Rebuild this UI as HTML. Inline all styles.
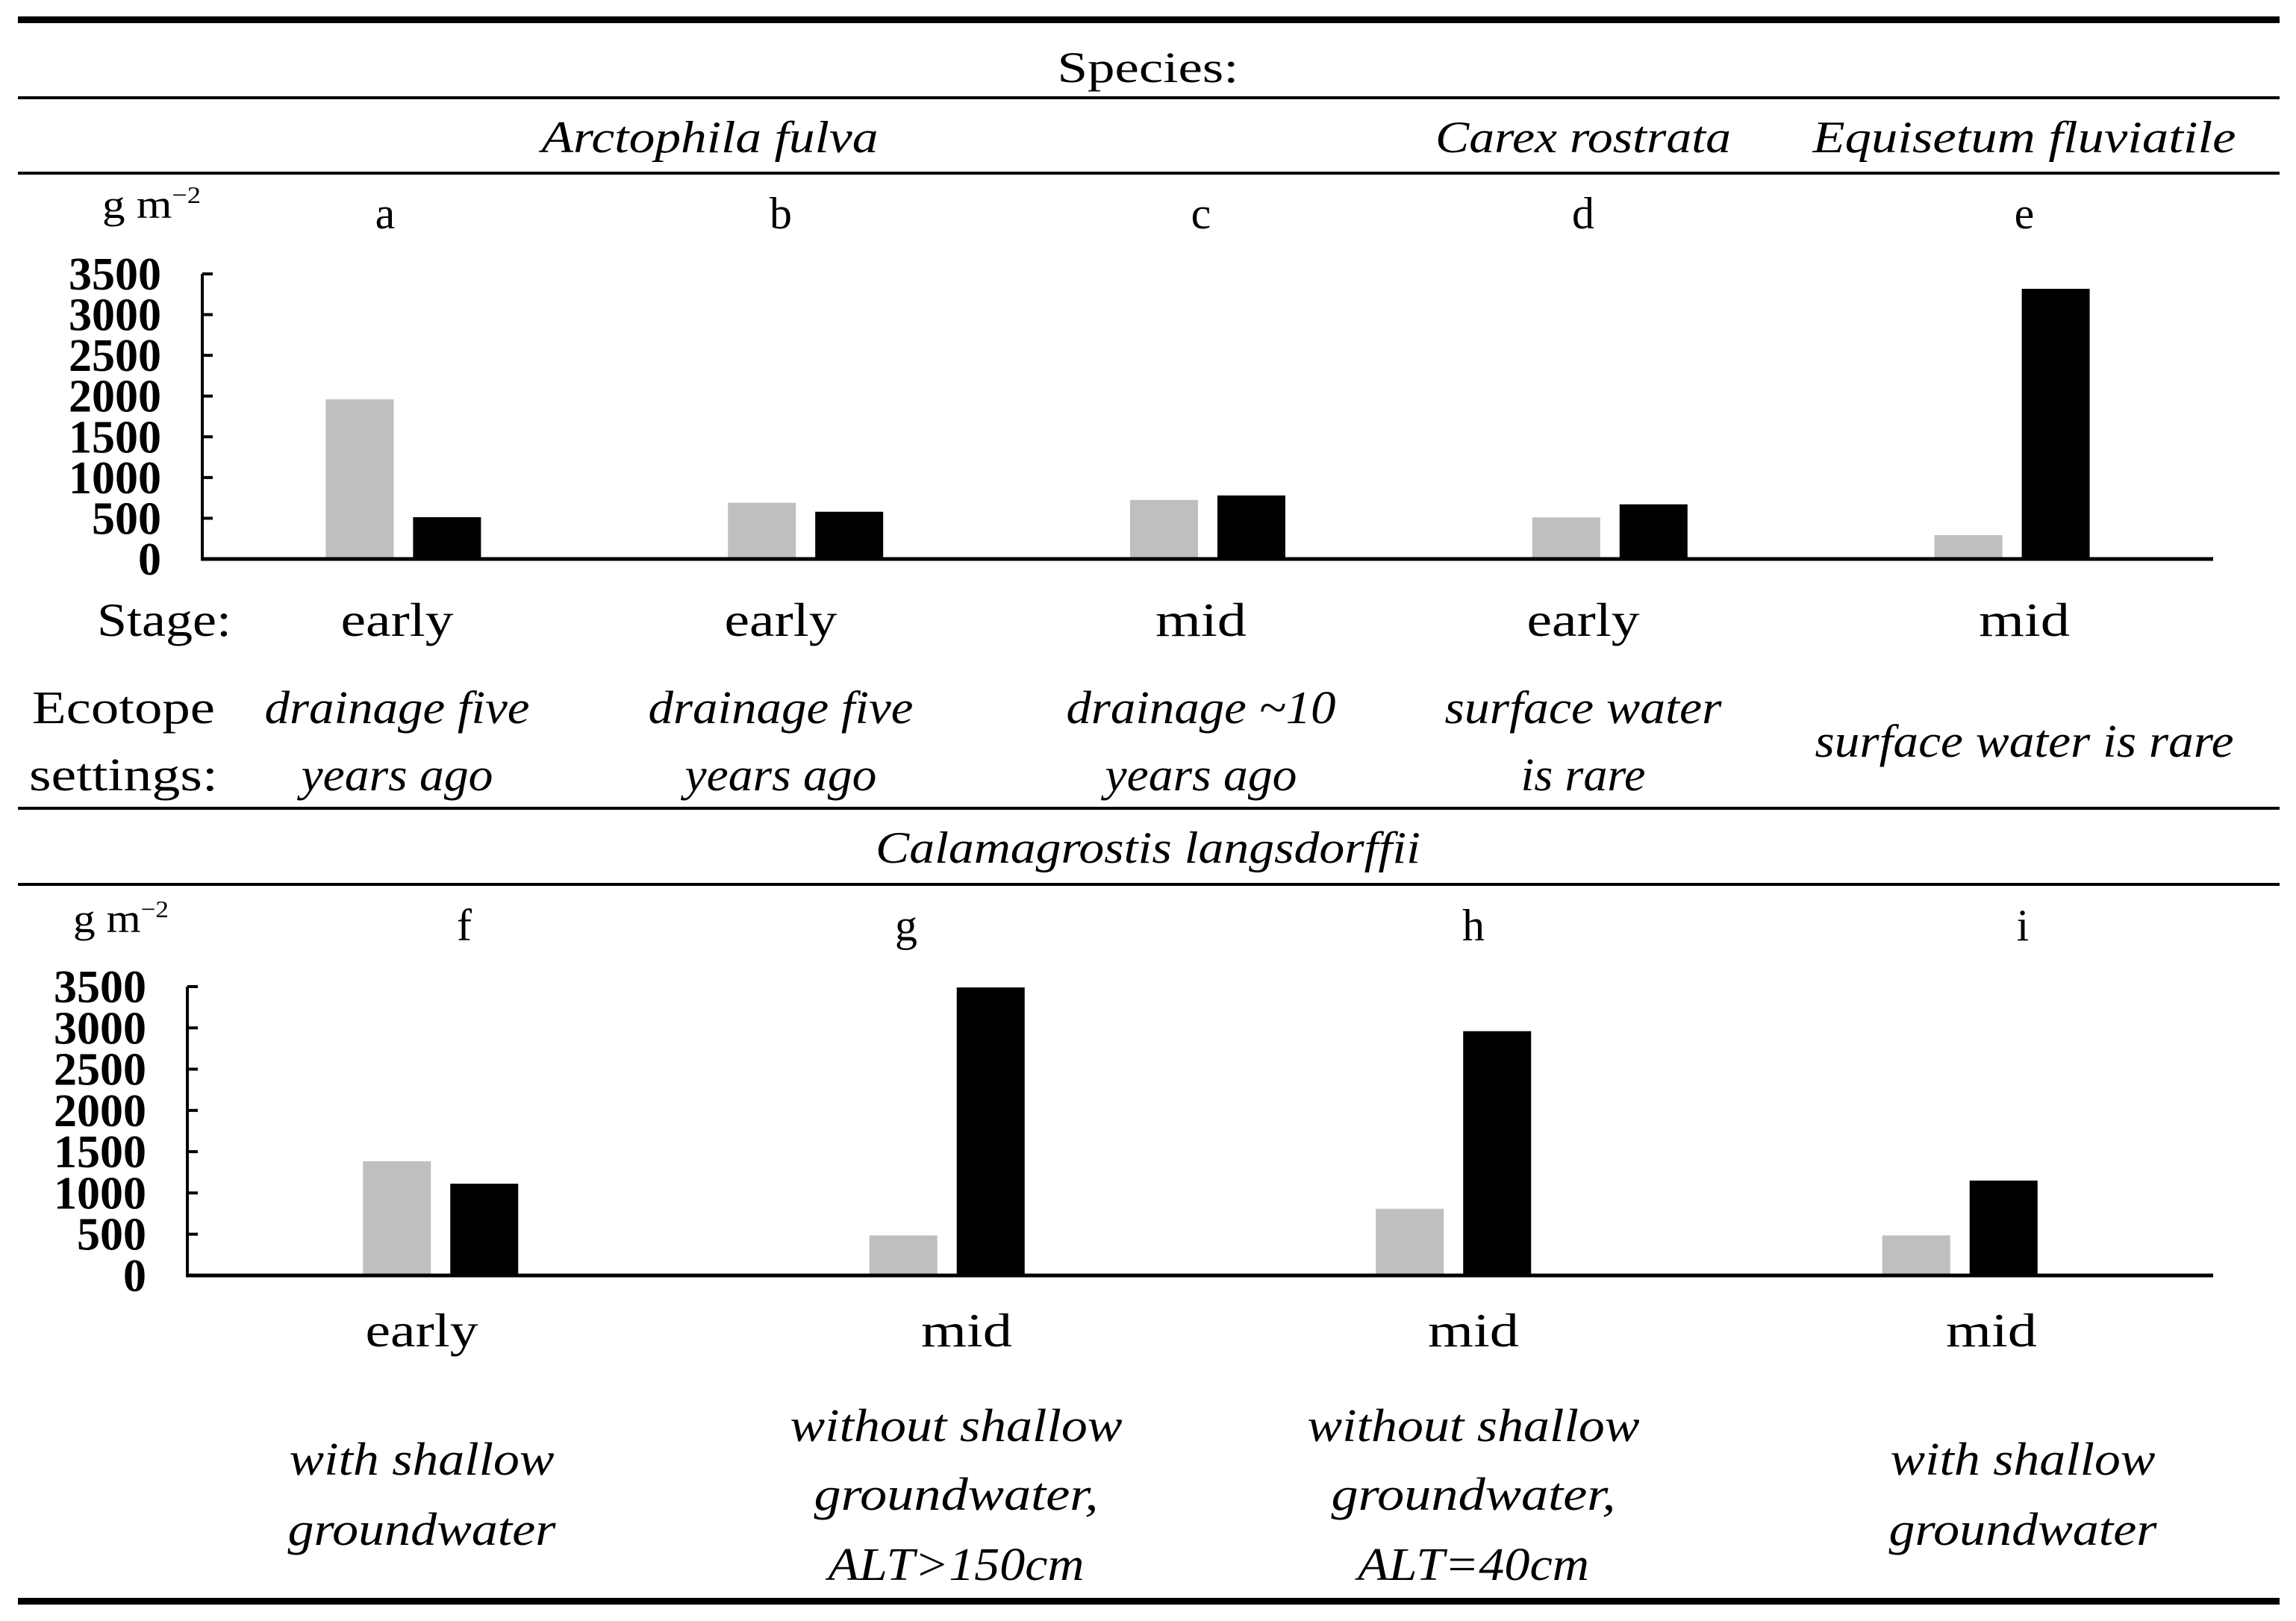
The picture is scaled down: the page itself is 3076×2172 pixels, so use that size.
<!DOCTYPE html>
<html><head><meta charset="utf-8"><style>
html,body{margin:0;padding:0;background:#fff;}
svg{display:block;}
text{font-family:"Liberation Serif",serif;fill:#000;}
.it{font-style:italic;}
.tk{font-weight:bold;font-size:62px;}
</style></head><body>
<svg id="fig" width="3076" height="2172" viewBox="0 0 3076 2172" xmlns="http://www.w3.org/2000/svg">
<rect x="0" y="0" width="3076" height="2172" fill="#fff"/>
<rect x="24" y="22" width="3030" height="9" fill="#000"/>
<text x="1538" y="110" font-size="58" text-anchor="middle" textLength="243" lengthAdjust="spacingAndGlyphs">Species:</text>
<rect x="24" y="129" width="3030" height="4" fill="#000"/>
<text class="it" x="951" y="204" font-size="60" text-anchor="middle" textLength="451" lengthAdjust="spacingAndGlyphs">Arctophila fulva</text>
<text class="it" x="2121" y="204" font-size="60" text-anchor="middle" textLength="396" lengthAdjust="spacingAndGlyphs">Carex rostrata</text>
<text class="it" x="2712" y="204" font-size="60" text-anchor="middle" textLength="567" lengthAdjust="spacingAndGlyphs">Equisetum fluviatile</text>
<rect x="24" y="230" width="3030" height="4" fill="#000"/>

<text x="137" y="292" font-size="54" textLength="132" lengthAdjust="spacingAndGlyphs">g m<tspan font-size="32" dy="-20">−2</tspan></text>
<g font-size="60" text-anchor="middle">
<text x="516" y="306">a</text><text x="1046" y="306">b</text><text x="1609" y="306">c</text><text x="2121" y="306">d</text><text x="2712" y="306">e</text>
</g>
<g id="topChart"></g>

<text x="130" y="852" font-size="64" textLength="180" lengthAdjust="spacingAndGlyphs">Stage:</text>
<g font-size="64" text-anchor="middle">
<text x="532" y="852" textLength="151" lengthAdjust="spacingAndGlyphs">early</text>
<text x="1046" y="852" textLength="151" lengthAdjust="spacingAndGlyphs">early</text>
<text x="1609" y="852" textLength="122" lengthAdjust="spacingAndGlyphs">mid</text>
<text x="2121" y="852" textLength="151" lengthAdjust="spacingAndGlyphs">early</text>
<text x="2712" y="852" textLength="122" lengthAdjust="spacingAndGlyphs">mid</text>
</g>
<text x="43" y="969" font-size="62" textLength="245" lengthAdjust="spacingAndGlyphs">Ecotope</text>
<text x="39" y="1059" font-size="62" textLength="253" lengthAdjust="spacingAndGlyphs">settings:</text>
<g class="it" font-size="62" text-anchor="middle">
<text x="532" y="969" textLength="355" lengthAdjust="spacingAndGlyphs">drainage five</text>
<text x="532" y="1059" textLength="257" lengthAdjust="spacingAndGlyphs">years ago</text>
<text x="1046" y="969" textLength="355" lengthAdjust="spacingAndGlyphs">drainage five</text>
<text x="1046" y="1059" textLength="257" lengthAdjust="spacingAndGlyphs">years ago</text>
<text x="1609" y="969" textLength="361" lengthAdjust="spacingAndGlyphs">drainage ~10</text>
<text x="1609" y="1059" textLength="257" lengthAdjust="spacingAndGlyphs">years ago</text>
<text x="2121" y="969" textLength="371" lengthAdjust="spacingAndGlyphs">surface water</text>
<text x="2121" y="1059" textLength="167" lengthAdjust="spacingAndGlyphs">is rare</text>
<text x="2712" y="1014" textLength="561" lengthAdjust="spacingAndGlyphs">surface water is rare</text>
</g>
<rect x="24" y="1081" width="3030" height="4" fill="#000"/>
<text class="it" x="1538" y="1156" font-size="60" text-anchor="middle" textLength="730" lengthAdjust="spacingAndGlyphs">Calamagrostis langsdorffii</text>
<rect x="24" y="1183" width="3030" height="4" fill="#000"/>

<text x="98" y="1249" font-size="54" textLength="128" lengthAdjust="spacingAndGlyphs">g m<tspan font-size="32" dy="-20">−2</tspan></text>
<g font-size="60" text-anchor="middle">
<text x="622" y="1260">f</text><text x="1214" y="1260">g</text><text x="1974" y="1260">h</text><text x="2710" y="1260">i</text>
</g>
<g id="botChart"></g>

<g font-size="64" text-anchor="middle">
<text x="565" y="1804" textLength="151" lengthAdjust="spacingAndGlyphs">early</text>
<text x="1295" y="1804" textLength="122" lengthAdjust="spacingAndGlyphs">mid</text>
<text x="1974" y="1804" textLength="122" lengthAdjust="spacingAndGlyphs">mid</text>
<text x="2668" y="1804" textLength="122" lengthAdjust="spacingAndGlyphs">mid</text>
</g>
<g class="it" font-size="62" text-anchor="middle">
<text x="565" y="1976" textLength="355" lengthAdjust="spacingAndGlyphs">with shallow</text>
<text x="565" y="2070" textLength="359" lengthAdjust="spacingAndGlyphs">groundwater</text>
<text x="1281" y="1931" textLength="445" lengthAdjust="spacingAndGlyphs">without shallow</text>
<text x="1281" y="2023" textLength="381" lengthAdjust="spacingAndGlyphs">groundwater,</text>
<text x="1281" y="2117" textLength="343" lengthAdjust="spacingAndGlyphs">ALT&gt;150cm</text>
<text x="1974" y="1931" textLength="445" lengthAdjust="spacingAndGlyphs">without shallow</text>
<text x="1974" y="2023" textLength="381" lengthAdjust="spacingAndGlyphs">groundwater,</text>
<text x="1974" y="2117" textLength="310" lengthAdjust="spacingAndGlyphs">ALT=40cm</text>
<text x="2710" y="1976" textLength="355" lengthAdjust="spacingAndGlyphs">with shallow</text>
<text x="2710" y="2070" textLength="359" lengthAdjust="spacingAndGlyphs">groundwater</text>
</g>
<rect x="24" y="2141" width="3030" height="9" fill="#000"/>
</svg>
<script>
const tickLabels = ["0","500","1000","1500","2000","2500","3000","3500"];
const tickValues = [0,500,1000,1500,2000,2500,3000,3500];
const topCategories = ["a","b","c","d","e"];
const topGray = [1960, 690, 725, 510, 293];
const topBlack = [513, 580, 780, 671, 3317];
const botCategories = ["f","g","h","i"];
const botGray = [1384, 485, 808, 485];
const botBlack = [1112, 3490, 2960, 1150];

const NS = "http://www.w3.org/2000/svg";
function mk(tag, attrs, parent){const e=document.createElementNS(NS,tag);for(const k in attrs)e.setAttribute(k,attrs[k]);parent.appendChild(e);return e;}

function drawChart(g, cats, gray, black, x0, x1, yTop, yZero, prefix){
  const yScale = v => yZero - (v/3500)*(yZero-yTop);
  const band = (x1-x0)/cats.length;
  const xCenter = i => x0 + band*(i+0.5);
  tickValues.forEach((v,i)=>{
    const t = mk("line",{x1:x0,x2:x0+14,y1:yScale(v),y2:yScale(v),stroke:"#000","stroke-width":4},g);
    
    
    const lb = mk("text",{x:x0-55,y:yScale(v)+21,"text-anchor":"end",class:"tk"},g);
    lb.textContent = tickLabels[i];
    
    
  });
  cats.forEach((c,i)=>{
    const cx = xCenter(i);
    const r1 = mk("rect",{x:cx-104,y:yScale(gray[i]),width:91,height:yZero-yScale(gray[i]),fill:"#bfbfbf"},g);
    
    
    const r2 = mk("rect",{x:cx+13,y:yScale(black[i]),width:91,height:yZero-yScale(black[i]),fill:"#000"},g);
    
    
  });
  const ya = mk("line",{x1:x0,x2:x0,y1:yTop,y2:yZero+2,stroke:"#000","stroke-width":4},g);
  
  
  const xa = mk("line",{x1:x0-2,x2:x1,y1:yZero,y2:yZero,stroke:"#000","stroke-width":5},g);
  
  
}
drawChart(document.getElementById("topChart"), topCategories, topGray, topBlack, 271, 2965, 367, 749, "top");
drawChart(document.getElementById("botChart"), botCategories, botGray, botBlack, 251, 2965, 1322, 1709, "bottom");
</script>
</body></html>
